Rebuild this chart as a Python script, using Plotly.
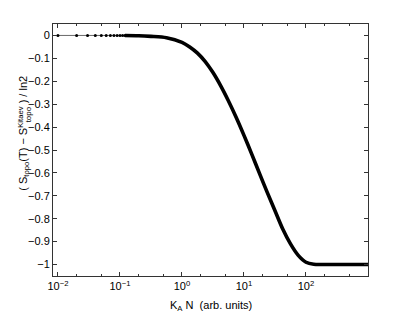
import plotly.graph_objects as go

# Sparse linearly-spaced samples at small K_A N (visible as dots)
x_dots = [0.01, 0.02, 0.03, 0.04, 0.05, 0.06, 0.07, 0.08, 0.09, 0.10,
          0.11, 0.12, 0.13, 0.14, 0.15, 0.16, 0.17, 0.18, 0.19, 0.20]
y_dots = [0.0] * len(x_dots)

# Dense part of the curve
x_curve = [0.12, 0.2, 0.316, 0.562, 1.0, 1.334, 1.778, 2.371, 3.162, 4.217, 5.623,
           7.499, 10.0, 13.34, 17.78, 23.71, 31.62, 42.17, 56.23, 74.99, 100.0,
           133.4, 177.8, 400, 1000]
y_curve = [0.0, -0.001, -0.004, -0.01, -0.03, -0.05, -0.077, -0.114, -0.162, -0.22,
           -0.286, -0.358, -0.436, -0.518, -0.602, -0.685, -0.765, -0.845, -0.91,
           -0.96, -0.99, -0.999, -1.0, -1.0, -1.0]

y_ticks = [0, -0.1, -0.2, -0.3, -0.4, -0.5, -0.6, -0.7, -0.8, -0.9, -1]
y_tick_text = ["0", "\u22120.1", "\u22120.2", "\u22120.3", "\u22120.4", "\u22120.5",
               "\u22120.6", "\u22120.7", "\u22120.8", "\u22120.9", "\u22121"]
x_ticks = [0.01, 0.1, 1, 10, 100]
x_tick_text = ["10<sup>\u22122</sup>", "10<sup>\u22121</sup>", "10<sup>0</sup>",
               "10<sup>1</sup>", "10<sup>2</sup>"]

font = "Liberation Sans, Arial, Helvetica, sans-serif"

fig = go.Figure()
fig.add_trace(go.Scatter(x=x_dots, y=y_dots, mode="lines+markers",
                         line=dict(color="#444", width=0.8),
                         marker=dict(color="black", size=3),
                         showlegend=False))
fig.add_trace(go.Scatter(x=x_curve, y=y_curve, mode="lines",
                         line=dict(color="black", width=3.6, shape="spline", smoothing=0.8),
                         showlegend=False))

axis_common = dict(showline=True, linecolor="#333", linewidth=1, mirror="ticks",
                   ticks="inside", tickcolor="#333", showgrid=False, zeroline=False,
                   tickfont=dict(family=font, size=11, color="black"))

fig.update_xaxes(type="log", range=[-2.08, 3.0], tickvals=x_ticks, ticktext=x_tick_text,
                 ticklen=4,
                 minor=dict(ticks="inside", ticklen=2, tickcolor="#333", showgrid=False),
                 **axis_common)
fig.update_yaxes(range=[-1.05, 0.05], tickvals=y_ticks, ticktext=y_tick_text, ticklen=4,
                 **axis_common)

fig.add_annotation(x=0.5, xref="paper", y=-0.085, yref="paper", yanchor="top",
                   text="K<sub>A</sub> N  (arb. units)", showarrow=False,
                   font=dict(family=font, size=11, color="black"))
fig.add_annotation(x=-0.125, xref="paper", y=0.567, yref="paper", textangle=-90,
                   text="( S<sub>topo</sub>(T) \u2212 S<sup>Kitaev</sup> ) / ln2",
                   showarrow=False, font=dict(family=font, size=11, color="black"))
# subscript stacked under the "Kitaev" superscript
fig.add_annotation(x=-0.098, xref="paper", y=0.64, yref="paper", textangle=-90,
                   text="topo", showarrow=False,
                   font=dict(family=font, size=8, color="black"))

# page body adds an 8px offset; compensate so the plot area sits at x 53..368, y 24..276
fig.update_layout(width=399, height=304, margin=dict(l=45, r=39, t=16, b=36),
                  paper_bgcolor="white", plot_bgcolor="white")

fig.write_html("out.html")
